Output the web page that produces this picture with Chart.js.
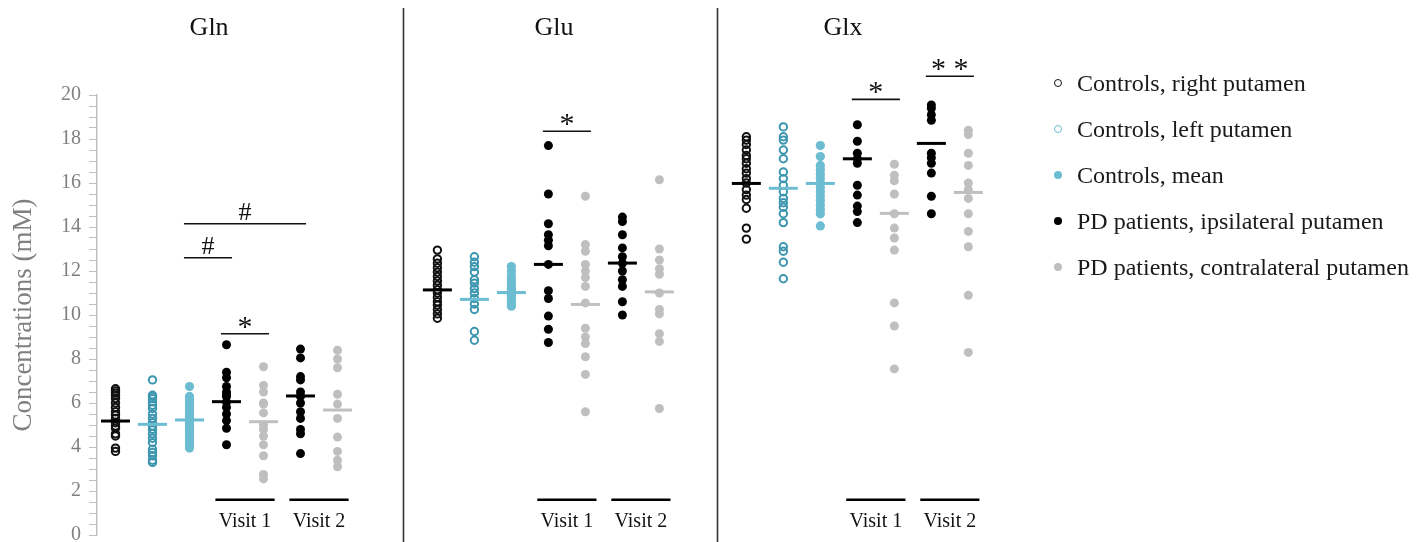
<!DOCTYPE html>
<html>
<head>
<meta charset="utf-8">
<script src="https://cdn.jsdelivr.net/npm/chart.js@4.4.1/dist/chart.umd.min.js"></script>
<style>
  html, body { margin: 0; padding: 0; background: #fff; overflow: hidden; }
  #wrap { position: relative; width: 1427px; height: 560px; }
  #legend { position: absolute; left: 1054px; top: 60px; font-family: 'Liberation Serif', serif; font-size: 24px; color: #1a1a1a; }
  .item { height: 46px; display: flex; align-items: center; white-space: nowrap; }
  .mk { width: 8px; height: 8px; border-radius: 50%; box-sizing: border-box; margin-right: 15px; flex: none; }
</style>
</head>
<body>
<div id="wrap">
  <canvas id="chart"></canvas>
  <div id="legend"></div>
</div>
<script>
const panels = ['Gln', 'Glu', 'Glx'];
const groupNames = [
  'Controls, right putamen',
  'Controls, left putamen',
  'Controls, mean',
  'PD patients, ipsilateral putamen',
  'PD patients, contralateral putamen'
];
const visitLabels = ['Visit 1', 'Visit 2'];
const yTicks = [0, 2, 4, 6, 8, 10, 12, 14, 16, 18, 20];

// Gln (mM)
const glnCtrlRight = [6.65, 6.55, 6.45, 6.35, 6.2, 6.0, 5.8, 5.6, 5.45, 5.3, 5.1, 4.95, 4.85, 4.6, 4.5, 3.95, 3.8];
const glnCtrlLeft = [7.05, 6.35, 6.3, 6.2, 6.05, 5.9, 5.75, 5.5, 5.3, 5.1, 4.95, 4.8, 4.6, 4.4, 4.2, 3.9, 3.75, 3.6, 3.4, 3.3];
const glnCtrlMean = [6.75, 6.3, 6.15, 6.0, 5.85, 5.7, 5.55, 5.4, 5.3, 5.2, 5.1, 5.0, 4.9, 4.8, 4.7, 4.55, 4.4, 4.25, 4.1, 3.95];
const glnPdIpsiV1 = [8.65, 7.4, 7.15, 6.75, 6.5, 6.35, 6.3, 6.05, 5.8, 5.5, 5.2, 4.85, 4.1];
const glnPdContraV1 = [7.65, 6.8, 6.5, 6.0, 5.95, 5.55, 5.0, 4.8, 4.5, 4.1, 3.6, 2.75, 2.55];
const glnPdIpsiV2 = [8.45, 8.05, 7.2, 7.05, 6.5, 6.3, 6.0, 5.6, 5.3, 4.8, 4.6, 3.7];
const glnPdContraV2 = [8.4, 8.0, 7.6, 6.4, 5.95, 5.3, 4.45, 3.8, 3.4, 3.1];
const glnMeans = [5.18, 5.03, 5.23, 6.06, 5.15, 6.32, 5.68];

// Glu (mM)
const gluCtrlRight = [12.95, 12.55, 12.35, 12.15, 11.95, 11.75, 11.55, 11.35, 11.15, 11.0, 10.8, 10.6, 10.45, 10.25, 10.05, 9.85];
const gluCtrlLeft = [12.65, 12.4, 12.2, 11.95, 11.6, 11.45, 11.2, 11.0, 10.75, 10.5, 10.25, 9.25, 8.85];
const gluCtrlMean = [12.2, 12.0, 11.8, 11.65, 11.5, 11.35, 11.2, 11.1, 11.0, 10.9, 10.8, 10.7, 10.6, 10.5, 10.4];
const gluPdIpsiV1 = [17.7, 15.5, 14.15, 13.65, 13.4, 13.15, 12.3, 11.1, 10.75, 9.95, 9.35, 8.75];
const gluPdContraV1 = [15.4, 13.2, 12.9, 12.3, 12.0, 11.7, 11.3, 10.55, 9.4, 9.0, 8.7, 8.1, 7.3, 5.6];
const gluPdIpsiV2 = [14.45, 14.25, 13.65, 13.05, 12.65, 12.35, 12.0, 11.6, 11.3, 10.6, 10.0];
const gluPdContraV2 = [16.15, 13.0, 12.5, 12.1, 11.85, 11.0, 10.25, 10.05, 9.15, 8.8, 5.75];
const gluMeans = [11.14, 10.71, 11.02, 12.3, 10.48, 12.36, 11.05];

// Glx (mM)
const glxCtrlRight = [18.1, 17.95, 17.75, 17.5, 17.25, 17.1, 16.9, 16.65, 16.45, 16.2, 16.0, 15.7, 15.45, 15.25, 14.85, 13.95, 13.45];
const glxCtrlLeft = [18.55, 18.1, 17.95, 17.5, 17.1, 16.5, 16.2, 15.9, 15.6, 15.3, 15.1, 14.9, 14.6, 14.2, 13.1, 12.9, 12.4, 11.65];
const glxCtrlMean = [17.7, 17.2, 16.8, 16.6, 16.4, 16.2, 16.0, 15.8, 15.6, 15.4, 15.2, 15.0, 14.8, 14.6, 14.05];
const glxPdIpsiV1 = [18.65, 17.9, 17.35, 17.1, 16.9, 15.9, 15.45, 14.95, 14.7, 14.2];
const glxPdContraV1 = [16.85, 16.35, 16.1, 15.5, 14.6, 13.95, 13.5, 12.95, 10.55, 9.5, 7.55];
const glxPdIpsiV2 = [19.55, 19.4, 19.1, 18.85, 17.35, 17.15, 16.9, 16.45, 15.4, 14.6];
const glxPdContraV2 = [18.4, 18.2, 17.35, 16.8, 16.0, 15.7, 15.3, 14.6, 13.8, 13.1, 10.9, 8.3];
const glxMeans = [15.98, 15.76, 15.98, 17.1, 14.62, 17.8, 15.57];

// significance brackets: panel, first column, last column, height (mM), label
const sigPanel = [0, 0, 0, 1, 2, 2];
const sigFrom = [3, 2, 2, 3, 3, 5];
const sigTo = [4, 3, 5, 4, 4, 6];
const sigY = [9.15, 12.6, 14.15, 18.35, 19.8, 20.85];
const sigLabel = ['*', '#', '#', '*', '*', '**'];

// columns in each panel: ctrl right, ctrl left, ctrl mean, PD ipsi V1, PD contra V1, PD ipsi V2, PD contra V2
const columnGroup = [0, 1, 2, 3, 4, 3, 4];
const panelCols = [
  [glnCtrlRight, glnCtrlLeft, glnCtrlMean, glnPdIpsiV1, glnPdContraV1, glnPdIpsiV2, glnPdContraV2],
  [gluCtrlRight, gluCtrlLeft, gluCtrlMean, gluPdIpsiV1, gluPdContraV1, gluPdIpsiV2, gluPdContraV2],
  [glxCtrlRight, glxCtrlLeft, glxCtrlMean, glxPdIpsiV1, glxPdContraV1, glxPdIpsiV2, glxPdContraV2]
];
const panelMeans = [glnMeans, gluMeans, glxMeans];

// layout (x in column slots)
const panelStart = [0.5, 9.2, 17.55];
const dividerX = [8.27, 16.76];
const titleX = [3.03, 12.35, 20.16];
const FONT = "'Liberation Serif', 'Times New Roman', serif";

const teal = '#6cbdd2';
const tealDark = '#3d96b0';
const grey = '#bfbfbf';
const pointStyles = [
  { borderColor: '#111', backgroundColor: 'rgba(0,0,0,0)', borderWidth: 2, radius: 3.7 },
  { borderColor: tealDark, backgroundColor: 'rgba(0,0,0,0)', borderWidth: 2, radius: 3.7 },
  { borderColor: teal, backgroundColor: teal, borderWidth: 0, radius: 4.6 },
  { borderColor: '#000', backgroundColor: '#000', borderWidth: 0, radius: 4.5 },
  { borderColor: grey, backgroundColor: grey, borderWidth: 0, radius: 4.5 }
];
const meanColors = ['#000', teal, teal, '#000', grey];

const datasets = [];
groupNames.forEach((name, g) => {
  const pts = [], means = [];
  panelCols.forEach((cols, p) => {
    cols.forEach((vals, k) => {
      if (columnGroup[k] !== g) return;
      vals.forEach(v => pts.push({ x: panelStart[p] + k, y: v }));
      means.push({ x: panelStart[p] + k, y: panelMeans[p][k] });
    });
  });
  const st = pointStyles[g];
  datasets.push({
    label: name, data: pts, order: 1,
    pointStyle: 'circle',
    pointRadius: st.radius,
    pointBorderWidth: st.borderWidth,
    pointBorderColor: st.borderColor,
    pointBackgroundColor: st.backgroundColor
  });
  datasets.push({
    label: name + ' (mean)', data: means, order: 0,
    pointStyle: 'line',
    pointRadius: 14.5,
    pointBorderWidth: 3,
    pointBorderColor: meanColors[g]
  });
});

const annotations = {
  id: 'annotations',
  afterDraw(chart) {
    const { ctx, scales: { x, y } } = chart;
    ctx.save();
    // panel dividers
    ctx.strokeStyle = '#333';
    ctx.lineWidth = 1.6;
    dividerX.forEach(d => {
      const px = Math.round(x.getPixelForValue(d)) + 0.5;
      ctx.beginPath();
      ctx.moveTo(px, 8);
      ctx.lineTo(px, chart.height);
      ctx.stroke();
    });
    // titles
    ctx.fillStyle = '#111';
    ctx.font = '26px ' + FONT;
    ctx.textAlign = 'center';
    ctx.textBaseline = 'alphabetic';
    panels.forEach((t, p) => ctx.fillText(t, x.getPixelForValue(titleX[p]), 35));
    // significance brackets
    sigLabel.forEach((lab, i) => {
      const x0 = x.getPixelForValue(panelStart[sigPanel[i]] + sigFrom[i] - 0.15);
      const x1 = x.getPixelForValue(panelStart[sigPanel[i]] + sigTo[i] + 0.15);
      const py = y.getPixelForValue(sigY[i]);
      ctx.strokeStyle = '#111';
      ctx.lineWidth = 1.6;
      ctx.beginPath();
      ctx.moveTo(x0, py);
      ctx.lineTo(x1, py);
      ctx.stroke();
      ctx.font = (lab === '#' ? '26px ' : '30px ') + FONT;
      ctx.fillText(lab === '**' ? '* *' : lab, (x0 + x1) / 2, lab === '#' ? py - 4 : py + 2);
    });
    // visit markers
    ctx.font = '20px ' + FONT;
    panelStart.forEach(ps => {
      visitLabels.forEach((vl, v) => {
        const c = ps + 3 + v * 2;
        const x0 = x.getPixelForValue(c - 0.3);
        const x1 = x.getPixelForValue(c + 1.3);
        const py = y.getPixelForValue(1.6);
        ctx.strokeStyle = '#000';
        ctx.lineWidth = 2.5;
        ctx.beginPath();
        ctx.moveTo(x0, py);
        ctx.lineTo(x1, py);
        ctx.stroke();
        ctx.fillText(vl, x.getPixelForValue(c + 0.5), py + 27);
      });
    });
    ctx.restore();
  }
};

new Chart(document.getElementById('chart'), {
  type: 'scatter',
  data: { datasets },
  options: {
    responsive: true,
    maintainAspectRatio: false,
    animation: false,
    events: [],
    layout: { padding: { top: 95, bottom: 25, left: 0, right: 405 } },
    plugins: { legend: { display: false }, tooltip: { enabled: false } },
    scales: {
      x: { type: 'linear', min: 0, max: 25, display: false },
      y: {
        min: yTicks[0], max: yTicks[yTicks.length - 1],
        afterFit: s => { s.width = 97; },
        afterBuildTicks: s => {
          const t = [];
          for (let v = yTicks[0]; v <= yTicks[yTicks.length - 1]; v += 0.5) t.push({ value: v });
          s.ticks = t;
        },
        ticks: {
          autoSkip: false,
          padding: 8,
          color: '#808080',
          font: { family: FONT, size: 20 },
          callback: v => yTicks.includes(v) ? v : ''
        },
        grid: { drawOnChartArea: false, drawTicks: true, tickLength: 8, color: grey, lineWidth: 1 },
        border: { display: true, color: grey, width: 1.5 },
        title: {
          display: true,
          text: 'Concentrations (mM)',
          color: '#808080',
          font: { family: FONT, size: 27 },
          padding: { top: 8, bottom: 0 }
        }
      }
    }
  },
  plugins: [annotations]
});

// legend
const legendEl = document.getElementById('legend');
const legendMarks = [
  'border: 1.8px solid #111;',
  'border: 1.8px solid ' + teal + ';',
  'background: ' + teal + ';',
  'background: #000;',
  'background: ' + grey + ';'
];
groupNames.forEach((name, g) => {
  const row = document.createElement('div');
  row.className = 'item';
  row.innerHTML = `<span class="mk" style="${legendMarks[g]}"></span><span>${name}</span>`;
  legendEl.appendChild(row);
});
</script>
</body>
</html>
